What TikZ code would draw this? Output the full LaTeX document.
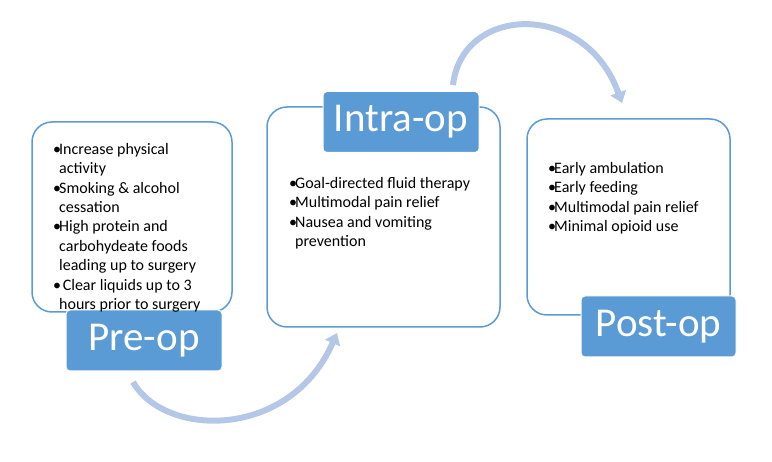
\documentclass[tikz,border=0pt]{standalone}
\usepackage{fontspec}
\setmainfont{Carlito}
\usetikzlibrary{arrows.meta}
\definecolor{boxline}{HTML}{5B9BD5}
\definecolor{labfill}{HTML}{5B9BD5}
\definecolor{arrowc}{HTML}{B4C7E7}
\newcommand\bul{\makebox[6pt][l]{•}}
\newcommand\ind{\hspace*{6pt}}
\begin{document}
\begin{tikzpicture}[x=1pt,y=-1pt,
  textbox/.style={draw=boxline, line width=1.5pt, rounded corners=20pt, fill=white, inner sep=0pt},
  phase/.style={fill=labfill, draw=white, line width=1pt, rounded corners=4pt, text=white,
     font=\fontsize{41}{41}\selectfont, inner sep=0pt, minimum height=61pt, minimum width=156pt},
  items/.style={font=\fontsize{16}{19.4}\selectfont, align=left, inner sep=0pt, anchor=north west, text=black},
  flow/.style={draw=arrowc, line width=6pt, -{Triangle[width=16pt,length=11pt]}}]
\useasboundingbox (0,0) rectangle (772,462);
% text boxes
\node[textbox, minimum width=200pt, minimum height=190pt] (b1) at (132,217) {};
\node[textbox, minimum width=233pt, minimum height=220pt] (b2) at (383.5,217) {};
\node[textbox, minimum width=203pt, minimum height=196pt] (b3) at (628.5,217) {};
% phase labels
\node[phase] (l1) at (144,340.5) {Pre-op};
\node[phase] (l2) at (401,122) {Intra-op};
\node[phase, minimum width=155pt] (l3) at (658.5,326.5) {Post-op};
% item lists
\node[items] (t1) at (53,143) {\bul Increase physical\\\ind activity\\\bul Smoking \& alcohol\\\ind cessation\\\bul High protein and\\\ind carbohydeate foods\\\ind leading up to surgery\\\bul\ Clear liquids up to 3\\\ind hours prior to surgery};
\node[items] (t2) at (289,177) {\bul Goal-directed fluid therapy\\\bul Multimodal pain relief\\\bul Nausea and vomiting\\\ind prevention};
\node[items] (t3) at (548,162) {\bul Early ambulation\\\bul Early feeding\\\bul Multimodal pain relief\\\bul Minimal opioid use};
% arrows
\coordinate (a1s) at (133,382);
\coordinate (a1e) at (337,333);
\coordinate (a2s) at (453,85);
\coordinate (a2e) at (622,103);
\draw[flow] (a1s) .. controls (165,438) and (290,440) .. (a1e);
\draw[flow] (a2s) .. controls (462,5) and (585,0) .. (a2e);
\end{tikzpicture}
\end{document}
